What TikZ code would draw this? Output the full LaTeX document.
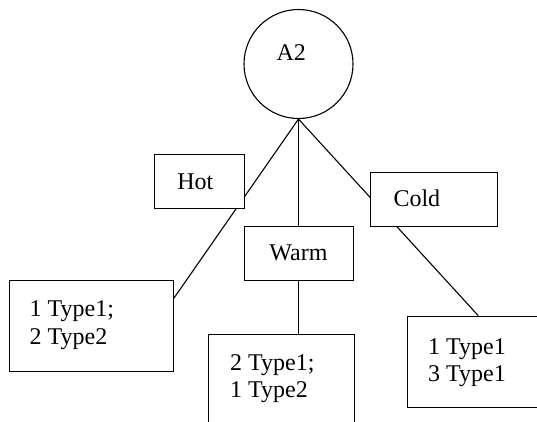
\documentclass[tikz,border=0pt]{standalone}
\usepackage{fontspec}
\setmainfont{Liberation Serif}
\newfontfamily\tnr{Liberation Serif}
\pgfdeclarelayer{bg}
\pgfsetlayers{bg,main}
\tikzset{
  box/.style={draw, fill=white, line width=1.1pt, inner sep=0pt, anchor=north west},
  txt/.style={inner sep=0pt, anchor=base west, font=\tnr\fontsize{24pt}{27.5pt}\selectfont},
  conn/.style={line width=1.1pt}
}
\newcommand{\twolines}[2]{\begin{tabular}[t]{@{}l@{}}#1\\#2\end{tabular}}
\begin{document}
\begin{tikzpicture}[x=1pt,y=-1pt]
\useasboundingbox (0,0) rectangle (537,421);
\clip (0,0) rectangle (537,421);
% root
\node[draw, circle, line width=1.1pt, minimum size=109pt, inner sep=0pt] (a2) at (298.5,64) {};
\node[txt] (a2t) at (276.3,60) {A2};
% branch boxes
\node[box, minimum width=90.3pt, minimum height=54.3pt] (hot) at (154,154) {};
\node[txt] (hott) at (177.2,189.3) {Hot};
\node[box, minimum width=127.3pt, minimum height=53.7pt] (cold) at (370,172.3) {};
\node[txt] (coldt) at (393.3,206.7) {Cold};
\node[box, minimum width=108.4pt, minimum height=54pt] (warm) at (244.3,226) {};
\node[txt] (warmt) at (269.2,260) {Warm};
% leaves
\node[box, minimum width=163.4pt, minimum height=91pt] (leaf1) at (9.3,280) {};
\node[txt] (leaf1t) at (29.5,316.7) {\twolines{1 Type1;}{2 Type2}};
\node[box, minimum width=146pt, minimum height=110pt] (leaf2) at (208.3,334) {};
\node[txt] (leaf2t) at (230,370) {\twolines{2 Type1;}{1 Type2}};
\node[box, minimum width=150pt, minimum height=91pt] (leaf3) at (406.7,315.7) {};
\node[txt] (leaf3t) at (428,354) {\twolines{1 Type1}{3 Type1}};
% connectors (behind the boxes)
\begin{pgfonlayer}{bg}
\draw[conn] (a2.south) -- ([yshift=-18.3pt]leaf1.north east);
\draw[conn] (a2.south) -- (a2.south |- leaf2.north);
\draw[conn] (a2.south) -- ([xshift=71.6pt]leaf3.north west);
\end{pgfonlayer}
\end{tikzpicture}
\end{document}
